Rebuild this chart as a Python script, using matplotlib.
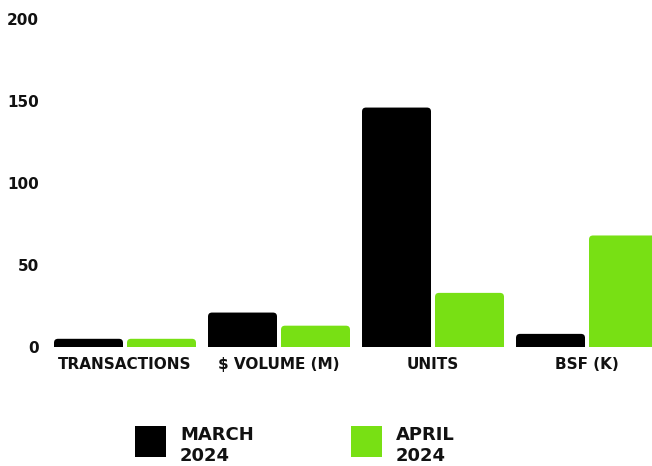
import numpy as np
import matplotlib.pyplot as plt
from matplotlib.patches import FancyBboxPatch, Rectangle

categories = ["TRANSACTIONS", "$ VOLUME (M)", "UNITS", "BSF (K)"]
march = [5, 21, 146, 8]
april = [5, 13, 33, 68]
series_names = ["MARCH\n2024", "APRIL\n2024"]
colors = ["#000000", "#78E014"]

plt.rcParams["font.family"] = "DejaVu Sans"
plt.rcParams["font.weight"] = "bold"

W, H = 652, 466
fig = plt.figure(figsize=(W / 100, H / 100), dpi=100)
ax = fig.add_axes([50 / W, 119 / H, 602 / W, 328 / H])

x = np.arange(len(categories))
w = 0.448
gap = 0.026
bars1 = ax.bar(x - gap / 2 - w / 2, march, w, color=colors[0])
bars2 = ax.bar(x + gap / 2 + w / 2, april, w, color=colors[1])

ax.set_xlim(-0.487, 3.422)
ax.set_ylim(0, 200)

# swap plain bars for ones with rounded tops (bottom corners hide below 0)
fig.canvas.draw()
px_x = ax.transData.transform((1, 0))[0] - ax.transData.transform((0, 0))[0]
px_y = ax.transData.transform((0, 1))[1] - ax.transData.transform((0, 0))[1]
r = 4 / px_x
for bars in (bars1, bars2):
    for b in bars:
        bx, bw, bh = b.get_x(), b.get_width(), b.get_height()
        low = -6 / px_y
        p = FancyBboxPatch((bx, low), bw, bh - low,
                           boxstyle="round,pad=0,rounding_size=%f" % r,
                           mutation_aspect=px_x / px_y,
                           facecolor=b.get_facecolor(), edgecolor="none")
        b.set_visible(False)
        ax.add_patch(p)

for s in ax.spines.values():
    s.set_visible(False)
ax.set_yticks([0, 50, 100, 150, 200])
ax.tick_params(axis="both", length=0, labelsize=11, colors="#111111")
ax.tick_params(axis="y", pad=8)
ax.tick_params(axis="x", pad=7)
ax.set_xticks(x)
ax.set_xticklabels(categories)

# legend drawn by hand: big squares with two-line labels
leg_x = [135, 351]
for lx, name, c in zip(leg_x, series_names, colors):
    fig.add_artist(Rectangle((lx / W, 1 - 457 / H), 31 / W, 31 / H,
                             transform=fig.transFigure, facecolor=c, edgecolor="none"))
    for i, line in enumerate(name.split("\n")):
        fig.text((lx + 45) / W, 1 - (440 + 21 * i) / H, line, fontsize=13,
                 fontweight="bold", color="#111111", va="baseline", ha="left")

fig.savefig("out.png", dpi=100)
